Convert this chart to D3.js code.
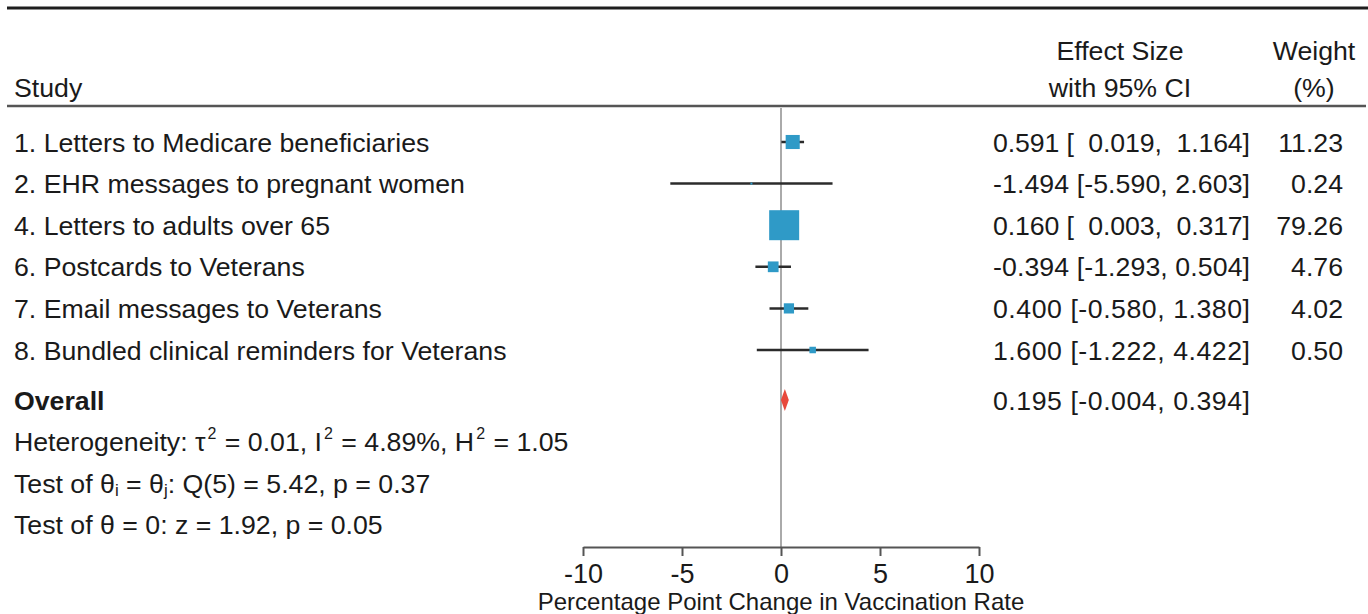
<!DOCTYPE html>
<html><head><meta charset="utf-8">
<script src="https://cdn.jsdelivr.net/npm/d3@7"></script>
<style>
html,body{margin:0;padding:0;background:#fff;}
svg{display:block;font-family:"Liberation Sans",Arial,sans-serif;}
text{white-space:pre;}
</style></head>
<body>
<svg id="chart" width="1368" height="614"></svg>
<script>
const studies = ["1. Letters to Medicare beneficiaries","2. EHR messages to pregnant women","4. Letters to adults over 65","6. Postcards to Veterans","7. Email messages to Veterans","8. Bundled clinical reminders for Veterans"];
const effect = [0.591,-1.494,0.160,-0.394,0.400,1.600];
const lower  = [0.019,-5.590,0.003,-1.293,-0.580,-1.222];
const upper  = [1.164,2.603,0.317,0.504,1.380,4.422];
const weight = [11.23,0.24,79.26,4.76,4.02,0.50];
const overall = {effect:0.195, lower:-0.004, upper:0.394};
const xTicks = [-10,-5,0,5,10];
const xTitle = "Percentage Point Change in Vaccination Rate";

const svg = d3.select("#chart");
const x = d3.scaleLinear().domain([-10,10]).range([583,979]);
const rowY = d3.scaleLinear().domain([0,5]).range([142,350]);
const size = d3.scaleSqrt().domain([0.24,0.5,79.26]).range([2,6.5,30]);
const ink = "#1a1a1a";
const fs = 26.7;
const dyT = 9.6;
const loc = d3.formatLocale({decimal:".", thousands:",", grouping:[3], currency:["",""], minus:"-"});
const fmt = loc.format(".3f");
const ci = (e,lo,hi) => lo<0 ? `${fmt(e)} [${fmt(lo)}, ${fmt(hi)}]` : `${fmt(e)} [  ${fmt(lo)},  ${fmt(hi)}]`;
const ciX = 993, ciW = 257;

// top border
svg.append("line").attr("x1",7).attr("x2",1368).attr("y1",8).attr("y2",8).attr("stroke","#1e1e1e").attr("stroke-width",3);
// header line
svg.append("line").attr("x1",7).attr("x2",1366).attr("y1",106).attr("y2",106).attr("stroke","#555").attr("stroke-width",2.5);

// headers
const hdr = svg.append("g").attr("fill",ink).attr("font-size",fs);
hdr.append("text").attr("x",14).attr("y",97).text("Study");
hdr.append("text").attr("x",1120).attr("y",60).attr("text-anchor","middle").text("Effect Size");
hdr.append("text").attr("x",1120).attr("y",97).attr("text-anchor","middle").text("with 95% CI");
hdr.append("text").attr("x",1314).attr("y",60).attr("text-anchor","middle").text("Weight");
hdr.append("text").attr("x",1314).attr("y",97).attr("text-anchor","middle").text("(%)");

// reference line
svg.append("line").attr("x1",x(0)).attr("x2",x(0)).attr("y1",108).attr("y2",547).attr("stroke","#aaa").attr("stroke-width",2);

const rows = studies.map((s,i)=>({s,e:effect[i],lo:lower[i],hi:upper[i],w:weight[i],i}));

// CI lines
svg.append("g").selectAll("line").data(rows).join("line")
  .attr("x1",d=>x(d.lo)).attr("x2",d=>x(d.hi))
  .attr("y1",d=>rowY(d.i)).attr("y2",d=>rowY(d.i))
  .attr("stroke","#2b2b2b").attr("stroke-width",2.5);
// boxes
svg.append("g").selectAll("rect").data(rows).join("rect")
  .attr("x",d=>x(d.e)-size(d.w)/2).attr("y",d=>rowY(d.i)-size(d.w)/2)
  .attr("width",d=>size(d.w)).attr("height",d=>size(d.w))
  .attr("fill","#2f9ac7");

// labels
const lab = svg.append("g").attr("fill",ink).attr("font-size",fs);
lab.selectAll("text.st").data(rows).join("text").attr("class","st")
  .attr("x",14).attr("y",d=>rowY(d.i)+dyT).text(d=>d.s);
lab.selectAll("text.es").data(rows).join("text").attr("class","es")
  .attr("x",ciX).attr("y",d=>rowY(d.i)+dyT)
  .attr("textLength",ciW).attr("lengthAdjust","spacing")
  .text(d=>ci(d.e,d.lo,d.hi));
lab.selectAll("text.wt").data(rows).join("text").attr("class","wt")
  .attr("x",1343).attr("y",d=>rowY(d.i)+dyT).attr("text-anchor","end")
  .text(d=>d.w.toFixed(2));

// overall
const oy = rowY(6.2);
svg.append("path")
  .attr("d",`M${x(overall.lower)},${oy} L${x(overall.effect)},${oy-11} L${x(overall.upper)},${oy} L${x(overall.effect)},${oy+11} Z`)
  .attr("fill","#e8493c");
lab.append("text").attr("x",14).attr("y",oy+dyT).attr("font-weight","bold").text("Overall");
lab.append("text").attr("x",ciX).attr("y",oy+dyT)
  .attr("textLength",ciW).attr("lengthAdjust","spacing")
  .text(ci(overall.effect,overall.lower,overall.upper));

// heterogeneity
const sup = 16, up = 12;
const h = lab.append("text").attr("x",14).attr("y",rowY(7.2)+dyT);
h.append("tspan").text("Heterogeneity: τ");
h.append("tspan").attr("font-size",sup).attr("dx",2).attr("dy",-up).text("2");
h.append("tspan").attr("dx",1).attr("dy",up).text(" = 0.01, I");
h.append("tspan").attr("font-size",sup).attr("dx",2).attr("dy",-up).text("2");
h.append("tspan").attr("dx",1).attr("dy",up).text(" = 4.89%, H");
h.append("tspan").attr("font-size",sup).attr("dx",2).attr("dy",-up).text("2");
h.append("tspan").attr("dx",1).attr("dy",up).text(" = 1.05");

const t1 = lab.append("text").attr("x",14).attr("y",rowY(8.2)+dyT);
t1.append("tspan").text("Test of θ");
t1.append("tspan").attr("font-size",17).attr("dy",3).text("i");
t1.append("tspan").attr("dy",-3).text(" = θ");
t1.append("tspan").attr("font-size",17).attr("dy",3).text("j");
t1.append("tspan").attr("dy",-3).text(": Q(5) = 5.42, p = 0.37");

lab.append("text").attr("x",14).attr("y",rowY(9.2)+dyT).text("Test of θ = 0: z = 1.92, p = 0.05");

// axis
const ax = svg.append("g").attr("transform","translate(0,547)")
  .call(d3.axisBottom(x).tickValues(xTicks).tickSize(9).tickSizeOuter(0).tickPadding(8).tickFormat(loc.format("d")));
ax.select(".domain").attr("stroke","#555").attr("stroke-width",2);
ax.selectAll(".tick line").attr("stroke","#555").attr("stroke-width",2);
ax.selectAll(".tick text").attr("font-size",27).attr("fill",ink).attr("font-family","Liberation Sans, Arial, sans-serif");
svg.append("text").attr("x",x(0)).attr("y",610).attr("text-anchor","middle").attr("font-size",24).attr("fill",ink).text(xTitle);
</script>
</body></html>
